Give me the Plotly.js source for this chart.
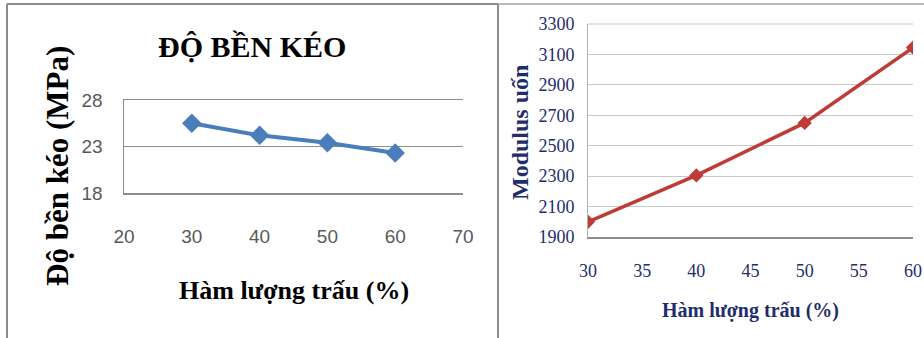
<!DOCTYPE html>
<html>
<head>
<meta charset="utf-8">
<script src="https://cdn.plot.ly/plotly-3.0.1.min.js"></script>
<style>
  html, body { margin: 0; padding: 0; background: #fff; }
  #chart { width: 924px; height: 338px; }
</style>
</head>
<body>
<div id="chart"></div>
<script>
// Tensile strength vs. rice-husk content
const huskContent = [30, 40, 50, 60];
const tensileStrength = [25.5, 24.2, 23.4, 22.3];

// Flexural modulus vs. rice-husk content
const modulusContent = [30, 40, 50, 60];
const flexuralModulus = [2000, 2305, 2650, 3145];

const leftXTicks = [20, 30, 40, 50, 60, 70];
const leftYTicks = [18, 23, 28];
const rightXTicks = [30, 35, 40, 45, 50, 55, 60];
const rightYTicks = [1900, 2100, 2300, 2500, 2700, 2900, 3100, 3300];

const W = 924, H = 338;
const px = v => v / W;            // horizontal pixel -> paper fraction
const py = v => 1 - v / H;        // vertical pixel -> paper fraction

const navy = '#1f2d6b';
const serif = '"Liberation Serif", "Times New Roman", serif';

const traces = [
  {
    x: huskContent, y: tensileStrength, xaxis: 'x', yaxis: 'y',
    mode: 'lines+markers', type: 'scatter',
    line: { color: '#4a7ebb', width: 4 },
    marker: { symbol: 'diamond', size: 15, color: '#4a7ebb' },
    hoverinfo: 'skip'
  },
  {
    x: modulusContent, y: flexuralModulus, xaxis: 'x2', yaxis: 'y2',
    mode: 'lines+markers', type: 'scatter',
    line: { color: '#be3b36', width: 3.5 },
    marker: { symbol: 'diamond', size: 11, color: '#be3b36' },
    hoverinfo: 'skip'
  }
];

const layout = {
  width: W, height: H,
  margin: { l: 0, r: 0, t: 0, b: 0 },
  paper_bgcolor: '#fff', plot_bgcolor: 'rgba(0,0,0,0)',
  showlegend: false,
  xaxis: {
    domain: [px(124), px(463)], range: [20, 70],
    tickvals: leftXTicks, ticktext: leftXTicks.map(String),
    showgrid: false, zeroline: false,
    showline: true, mirror: true, linecolor: '#8c8c8c', linewidth: 1.5,
    ticks: 'outside', ticklen: 26, tickcolor: 'rgba(0,0,0,0)',
    tickfont: { family: '"Liberation Sans", Arial, sans-serif', size: 19, color: '#595959' },
    anchor: 'y'
  },
  yaxis: {
    domain: [py(193), py(100)], range: [18, 28],
    tickvals: leftYTicks, ticktext: leftYTicks.map(String),
    showgrid: true, gridcolor: '#8c8c8c', gridwidth: 1.5,
    zeroline: false, showline: true, linecolor: '#8c8c8c', linewidth: 1.5,
    ticks: 'outside', ticklen: 16, tickcolor: 'rgba(0,0,0,0)',
    tickfont: { family: '"Liberation Sans", Arial, sans-serif', size: 19, color: '#595959' },
    anchor: 'x'
  },
  xaxis2: {
    domain: [px(588), px(913)], range: [30, 60],
    tickvals: rightXTicks, ticktext: rightXTicks.map(String),
    showgrid: false, zeroline: false,
    showline: true, linecolor: '#8c8c8c', linewidth: 1.5,
    ticks: 'outside', ticklen: 17, tickcolor: 'rgba(0,0,0,0)',
    tickfont: { family: serif, size: 18, color: navy },
    anchor: 'y2'
  },
  yaxis2: {
    domain: [py(237), py(24)], range: [1900, 3300],
    tickvals: rightYTicks, ticktext: rightYTicks.map(String),
    showgrid: true, gridcolor: '#c8c8c8', gridwidth: 1,
    zeroline: false, showline: true, linecolor: '#b0b0b0', linewidth: 1,
    ticks: 'outside', ticklen: 9, tickcolor: 'rgba(0,0,0,0)',
    tickfont: { family: serif, size: 18, color: navy },
    anchor: 'x2'
  },
  annotations: [
    { text: '<b>ĐỘ BỀN KÉO</b>', xref: 'paper', yref: 'paper',
      x: px(252), y: py(47), xanchor: 'center', yanchor: 'middle', showarrow: false,
      font: { family: serif, size: 30, color: '#000' } },
    { text: '<b>Độ bền kéo (MPa)</b>', xref: 'paper', yref: 'paper',
      x: px(57), y: py(166), xanchor: 'center', yanchor: 'middle', showarrow: false,
      textangle: -90, font: { family: serif, size: 31, color: '#000' } },
    { text: '<b>Hàm lượng trấu (%)</b>', xref: 'paper', yref: 'paper',
      x: px(294), y: py(290), xanchor: 'center', yanchor: 'middle', showarrow: false,
      font: { family: serif, size: 26, color: '#000' } },
    { text: '<b>Modulus uốn</b>', xref: 'paper', yref: 'paper',
      x: px(520), y: py(133), xanchor: 'center', yanchor: 'middle', showarrow: false,
      textangle: -90, font: { family: serif, size: 24, color: navy } },
    { text: '<b>Hàm lượng trấu (%)</b>', xref: 'paper', yref: 'paper',
      x: px(750), y: py(310), xanchor: 'center', yanchor: 'middle', showarrow: false,
      font: { family: serif, size: 20, color: navy } }
  ],
  shapes: [
    // left panel frame
    { type: 'line', xref: 'paper', yref: 'paper', x0: px(7), x1: px(498), y0: py(4), y1: py(4),
      line: { color: '#8c8c8c', width: 2 } },
    { type: 'line', xref: 'paper', yref: 'paper', x0: px(7), x1: px(7), y0: py(4), y1: 0,
      line: { color: '#8c8c8c', width: 2 } },
    // right panel frame
    { type: 'line', xref: 'paper', yref: 'paper', x0: px(498), x1: px(498), y0: py(4), y1: 0,
      line: { color: '#8c8c8c', width: 2 } },
    { type: 'line', xref: 'paper', yref: 'paper', x0: px(498), x1: 1, y0: py(4), y1: py(4),
      line: { color: '#a6a6a6', width: 1.5 } },
    // top border of the modulus plot area (3300 grid level)
    { type: 'line', xref: 'x2 domain', yref: 'y2 domain', x0: 0, x1: 1, y0: 1, y1: 1,
      line: { color: '#c8c8c8', width: 1 }, layer: 'below' }
  ]
};

Plotly.newPlot('chart', traces, layout, { staticPlot: true, displayModeBar: false });
</script>
</body>
</html>
